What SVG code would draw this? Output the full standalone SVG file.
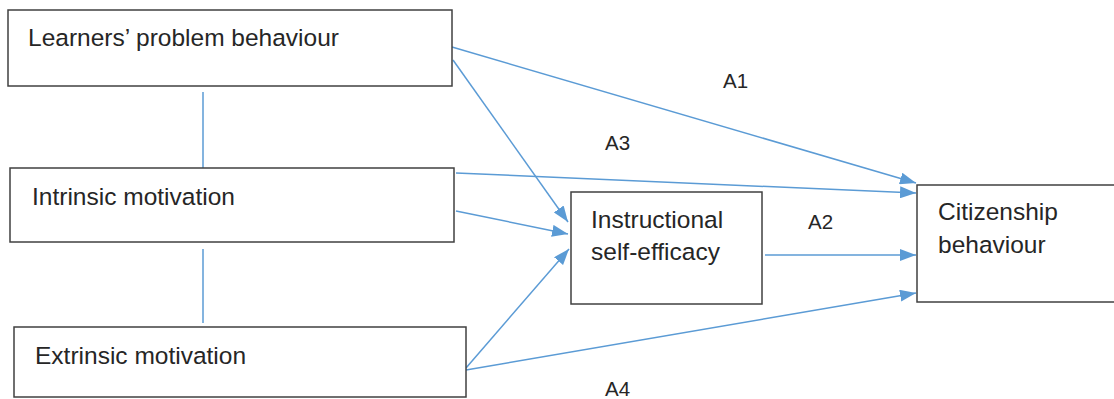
<svg xmlns="http://www.w3.org/2000/svg" width="1114" height="399" viewBox="0 0 1114 399">
<style>
.box{fill:#fff;stroke:#404040;stroke-width:1.5}
.t{font-family:"Liberation Sans",Arial,sans-serif;font-size:24.5px;fill:#262626}
.lab{font-family:"Liberation Sans",Arial,sans-serif;font-size:20.5px;fill:#262626}
.c{stroke:#5B9BD5;stroke-width:1.5;fill:none}
</style>
<defs>
<marker id="ah" viewBox="0 0 16 12" refX="16" refY="6" markerWidth="16" markerHeight="12" markerUnits="userSpaceOnUse" orient="auto">
<path d="M0,0 L16,6 L0,12 Z" fill="#5B9BD5"/>
</marker>
</defs>
<rect width="1114" height="399" fill="#fff"/>
<g id="connectors">
<line class="c" x1="203" y1="92" x2="203" y2="170"/>
<line class="c" x1="203" y1="249" x2="203" y2="323"/>
<line class="c" x1="452" y1="47" x2="916" y2="183" marker-end="url(#ah)"/>
<line class="c" x1="453" y1="60" x2="568" y2="222" marker-end="url(#ah)"/>
<line class="c" x1="456" y1="173" x2="916" y2="193" marker-end="url(#ah)"/>
<line class="c" x1="456" y1="211" x2="568" y2="234" marker-end="url(#ah)"/>
<line class="c" x1="466" y1="368" x2="569" y2="249" marker-end="url(#ah)"/>
<line class="c" x1="466" y1="370" x2="916" y2="293" marker-end="url(#ah)"/>
<line class="c" x1="765" y1="255" x2="916" y2="255" marker-end="url(#ah)"/>
</g>
<g id="n1"><rect class="box" x="8" y="10" width="444" height="76"/><text class="t" x="28" y="46">Learners’ problem behaviour</text></g>
<g id="n2"><rect class="box" x="10" y="168" width="444" height="74"/><text class="t" x="32" y="205">Intrinsic motivation</text></g>
<g id="n3"><rect class="box" x="14" y="327" width="452" height="70"/><text class="t" x="35" y="364">Extrinsic motivation</text></g>
<g id="n4"><rect class="box" x="571" y="192" width="191" height="112"/><text class="t" x="591" y="228">Instructional</text><text class="t" x="591" y="260">self-efficacy</text></g>
<g id="n5"><rect class="box" x="917" y="185" width="200" height="117"/><text class="t" x="938" y="220">Citizenship</text><text class="t" x="938" y="253">behaviour</text></g>
<g id="labels">
<text class="lab" x="723" y="88">A1</text>
<text class="lab" x="605" y="150">A3</text>
<text class="lab" x="808" y="229">A2</text>
<text class="lab" x="605" y="396">A4</text>
</g>
</svg>
